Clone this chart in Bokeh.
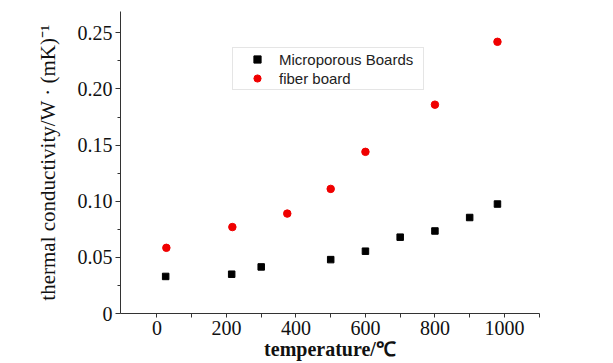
from bokeh.plotting import figure
from bokeh.models import Range1d, FixedTicker, Legend, LegendItem
from bokeh.embed import file_html
from bokeh.resources import INLINE

# data
micro_temp = [25, 215, 300, 500, 600, 700, 800, 900, 980]
micro_k = [0.033, 0.035, 0.0415, 0.048, 0.0555, 0.068, 0.0735, 0.0855, 0.0975]
fiber_temp = [27, 217, 375, 500, 600, 800, 980]
fiber_k = [0.0585, 0.077, 0.089, 0.111, 0.144, 0.186, 0.242]

x_ticks = [0, 200, 400, 600, 800, 1000]
x_minor = [100, 300, 500, 700, 900, 1100]
y_ticks = [0, 0.05, 0.10, 0.15, 0.20, 0.25]
y_minor = [0.025, 0.075, 0.125, 0.175, 0.225]
y_tick_labels = ["0", "0.05", "0.10", "0.15", "0.20", "0.25"]

p = figure(width=613, height=363, output_backend="svg", toolbar_location=None,
           x_range=Range1d(-105, 1101), y_range=Range1d(0, 0.269),
           min_border_left=120, min_border_right=74, min_border_top=11,
           min_border_bottom=50)
p.outline_line_color = None
p.xgrid.grid_line_color = None
p.ygrid.grid_line_color = None
p.background_fill_color = "white"
p.border_fill_color = "white"

r1 = p.scatter(micro_temp, micro_k, marker="square", size=6.5,
               fill_color="black", line_color="black")
r2 = p.scatter(fiber_temp, fiber_k, marker="circle", size=7.5,
               fill_color="#f00000", line_color="#f00000")

serif = "Liberation Serif"
for ax in (p.xaxis[0], p.yaxis[0]):
    ax.axis_line_color = "#333333"
    ax.major_tick_line_color = "#333333"
    ax.minor_tick_line_color = "#333333"
    ax.major_tick_in = 0
    ax.minor_tick_in = 0
    ax.major_label_text_font = serif
    ax.major_label_text_font_size = "20px"
    ax.major_label_text_color = "#111111"
    ax.axis_label_text_font = serif
    ax.axis_label_text_color = "#111111"

xa = p.xaxis[0]
xa.ticker = FixedTicker(ticks=x_ticks, minor_ticks=x_minor)
xa.major_tick_out = 4
xa.minor_tick_out = 4
xa.major_label_standoff = 3
xa.axis_label = "temperature/℃"
xa.axis_label_text_font_size = "20px"
xa.axis_label_text_font_style = "bold"
xa.axis_label_standoff = 0

ya = p.yaxis[0]
ya.ticker = FixedTicker(ticks=y_ticks, minor_ticks=y_minor)
ya.major_label_overrides = {t: l for t, l in zip(y_ticks, y_tick_labels)}
ya.major_tick_out = 5
ya.minor_tick_out = 3
ya.major_label_standoff = 3
ya.axis_label = "thermal conductivity/W · (mK)⁻¹"
ya.axis_label_text_font_size = "21px"
ya.axis_label_text_font_style = "normal"
ya.axis_label_standoff = 15

legend = Legend(items=[LegendItem(label="Microporous Boards", renderers=[r1]),
                       LegendItem(label="fiber board", renderers=[r2])],
                location=(112, 223))
legend.label_text_font = "Liberation Sans"
legend.label_text_font_size = "15px"
legend.label_text_color = "#222222"
legend.border_line_color = "#cccccc"
legend.border_line_width = 1
legend.background_fill_color = "white"
legend.background_fill_alpha = 1
legend.padding = 2
legend.spacing = 1
legend.margin = 0
legend.label_height = 18
legend.label_width = 142
legend.glyph_height = 18
legend.glyph_width = 44
legend.label_standoff = 0
p.add_layout(legend)

open("out.html", "w").write(file_html(p, INLINE))
